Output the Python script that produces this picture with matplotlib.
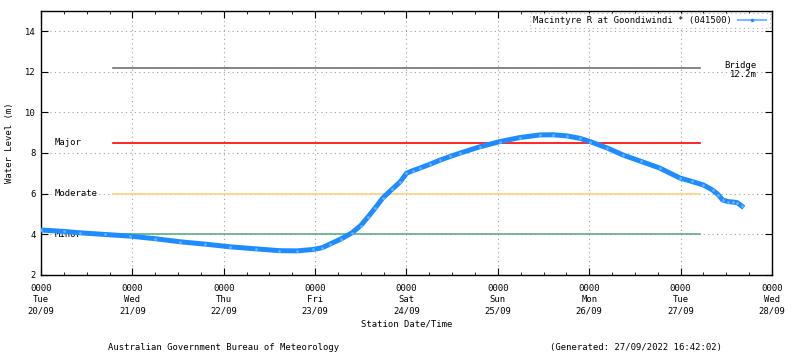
import numpy as np
import matplotlib
matplotlib.use("Agg")
import matplotlib.pyplot as plt
from matplotlib.lines import Line2D

plt.rcParams["font.family"] = ["DejaVu Sans Mono"]
plt.rcParams["font.size"] = 6.4

# water level readings (days since Tue 20/09 0000, metres)
days = [0.0, 0.25, 0.43, 0.7, 0.97, 1.25, 1.52, 1.8, 2.07, 2.35, 2.61, 2.8,
        2.98, 3.08, 3.16, 3.28, 3.4, 3.5, 3.58, 3.66, 3.74, 3.84, 3.93, 4.0,
        4.07, 4.15, 4.26, 4.37, 4.48, 4.59, 4.8, 5.02, 5.24, 5.46, 5.6, 5.76,
        5.9, 6.01, 6.2, 6.37, 6.57, 6.77, 6.99, 7.12, 7.25, 7.35, 7.41, 7.46,
        7.52, 7.57, 7.62, 7.67]
level = [4.2, 4.13, 4.06, 3.98, 3.9, 3.77, 3.62, 3.5, 3.37, 3.27, 3.18, 3.17,
         3.24, 3.33, 3.5, 3.75, 4.05, 4.42, 4.85, 5.3, 5.78, 6.2, 6.57, 7.0,
         7.13, 7.26, 7.45, 7.65, 7.83, 8.0, 8.3, 8.56, 8.76, 8.89, 8.9, 8.84,
         8.72, 8.56, 8.24, 7.9, 7.58, 7.26, 6.77, 6.6, 6.42, 6.17, 5.95, 5.68,
         5.6, 5.58, 5.55, 5.38]

thresh_names = ["Bridge", "Major", "Moderate", "Minor"]
thresh_levels = [12.2, 8.5, 6.0, 4.0]
thresh_colors = ["#707070", "#ff0000", "#ffd27a", "#5daf86"]
thresh_start, thresh_end = 0.79, 7.21

tick_days = list(range(9))
tick_labels = ["0000\nTue\n20/09", "0000\nWed\n21/09", "0000\nThu\n22/09",
               "0000\nFri\n23/09", "0000\nSat\n24/09", "0000\nSun\n25/09",
               "0000\nMon\n26/09", "0000\nTue\n27/09", "0000\nWed\n28/09"]

fig = plt.figure(figsize=(8, 3.58), dpi=100)
ax = fig.add_axes([0.05125, 0.233, 0.9137, 0.736])

ax.set_xlim(0, 8)
ax.set_ylim(2, 15)
ax.set_yticks([2, 4, 6, 8, 10, 12, 14])
ax.set_xticks(tick_days)
ax.set_xticklabels(tick_labels, linespacing=1.3)
ax.set_xticks(np.arange(0, 8.01, 0.25), minor=True)
ax.tick_params(which="both", direction="in", top=True, right=True)
ax.tick_params(which="major", length=5, pad=7)
ax.tick_params(which="minor", length=2.5)
ax.tick_params(axis="y", pad=4)
ax.grid(True, which="major", color="#a0a0a0", linestyle=(0, (1, 3)), linewidth=0.8)
for s in ax.spines.values():
    s.set_linewidth(1.0)

for name, lv, col in zip(thresh_names, thresh_levels, thresh_colors):
    ax.plot([thresh_start, thresh_end], [lv, lv], color=col, linewidth=1.2, zorder=2)
    if name == "Bridge":
        ax.text(7.836, lv + 0.1, "Bridge", ha="right", va="center")
        ax.text(7.836, lv - 0.32, "12.2m", ha="right", va="center")
    else:
        ax.text(0.153, lv, name, ha="left", va="center")

ax.plot(days, level, color="#1e8cff", linewidth=3.6, marker="o", markersize=2,
        markerfacecolor="#6bb4ff", markeredgewidth=0, zorder=3)

handle = Line2D([], [], color="#7ab8ff", linewidth=1.5, marker="o", markersize=2.5,
                markerfacecolor="#1e8cff", markeredgewidth=0)
leg = ax.legend([handle], ["Macintyre R at Goondiwindi * (041500)"], loc="upper right",
                bbox_to_anchor=(0.998, 0.997), frameon=True, fancybox=False,
                markerfirst=False, handlelength=3.2, borderpad=0.35,
                handletextpad=0.7, borderaxespad=0.1)
leg.get_frame().set_edgecolor("#a0a0a0")
leg.get_frame().set_linestyle((0, (1, 3)))
leg.get_frame().set_linewidth(0.8)

ax.set_ylabel("Water Level (m)", labelpad=8)
ax.set_xlabel("Station Date/Time", labelpad=3)

fig.text(0.28, 0.022, "Australian Government Bureau of Meteorology", ha="center")
fig.text(0.795, 0.022, "(Generated: 27/09/2022 16:42:02)", ha="center")

fig.savefig("out.png", dpi=100)
